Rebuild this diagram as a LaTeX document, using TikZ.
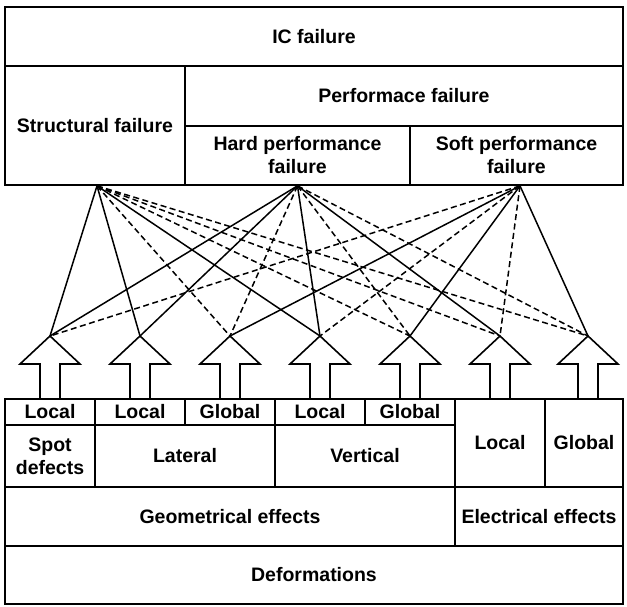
\documentclass[tikz,border=0pt]{standalone}
\usepackage{fontspec}
\setmainfont{Liberation Sans}
\begin{document}
\begin{tikzpicture}[
    x=1pt, y=-1pt,
    cell/.style={draw, line width=1.7pt, inner sep=0pt, align=center,
      font=\fontsize{19.5}{23}\selectfont\bfseries},
    link/.style={line width=1.5pt},
    linkdashed/.style={link, dash pattern=on 6pt off 3.5pt},
    blockarrow/.style={line width=1.6pt, line join=miter},
  ]
  \useasboundingbox (0,0) rectangle (627,607);
  % failures
  \node[cell, minimum width=618, minimum height=59] (ic) at (314,36.5) {IC failure};
  \node[cell, minimum width=180, minimum height=119] (struct) at (95,125.5) {Structural failure};
  \node[cell, minimum width=438, minimum height=60] (perf) at (404,96) {Performace failure};
  \node[cell, minimum width=225, minimum height=59] (hard) at (297.5,155.5) {Hard performance\\failure};
  \node[cell, minimum width=213, minimum height=59] (soft) at (516.5,155.5) {Soft performance\\failure};
  % deformations
  \node[cell, minimum width=90, minimum height=26] (loca) at (50,412) {Local};
  \node[cell, minimum width=90, minimum height=26] (locb) at (140,412) {Local};
  \node[cell, minimum width=90, minimum height=26] (globa) at (230,412) {Global};
  \node[cell, minimum width=90, minimum height=26] (locc) at (320,412) {Local};
  \node[cell, minimum width=90, minimum height=26] (globb) at (410,412) {Global};
  \node[cell, minimum width=90, minimum height=88] (locd) at (500,443) {Local};
  \node[cell, minimum width=78, minimum height=88] (globc) at (584,443) {Global};
  \node[cell, minimum width=90, minimum height=62] (spot) at (50,456) {Spot\\defects};
  \node[cell, minimum width=180, minimum height=62] (lateral) at (185,456) {Lateral};
  \node[cell, minimum width=180, minimum height=62] (vertical) at (365,456) {Vertical};
  \node[cell, minimum width=450, minimum height=59] (geo) at (230,516.5) {Geometrical effects};
  \node[cell, minimum width=168, minimum height=59] (elec) at (539,516.5) {Electrical effects};
  \node[cell, minimum width=618, minimum height=58] (deform) at (314,575) {Deformations};
  % fleches
  \foreach \x [count=\i] in {50,140,230,320,410,500,588} {
    \coordinate (t\i) at (\x,336);
    \draw[blockarrow] ({\x-10},399) -- ({\x-10},364) -- ({\x-30},364) -- (t\i)
      -- ({\x+30},364) -- ({\x+10},364) -- ({\x+10},399);
  }
  % liens
  \coordinate (s) at ([xshift=2pt]struct.south);
  \coordinate (h) at (hard.south);
  \coordinate (w) at ([xshift=3.5pt]soft.south);
  \foreach \t in {1,2,4} \draw[link] (s) -- (t\t);
  \foreach \t in {3,5,6,7} \draw[linkdashed] (s) -- (t\t);
  \foreach \t in {1,2,4,6} \draw[link] (h) -- (t\t);
  \foreach \t in {3,5,7} \draw[linkdashed] (h) -- (t\t);
  \foreach \t in {3,5,7} \draw[link] (w) -- (t\t);
  \foreach \t in {1,4,6} \draw[linkdashed] (w) -- (t\t);
\end{tikzpicture}
\end{document}
